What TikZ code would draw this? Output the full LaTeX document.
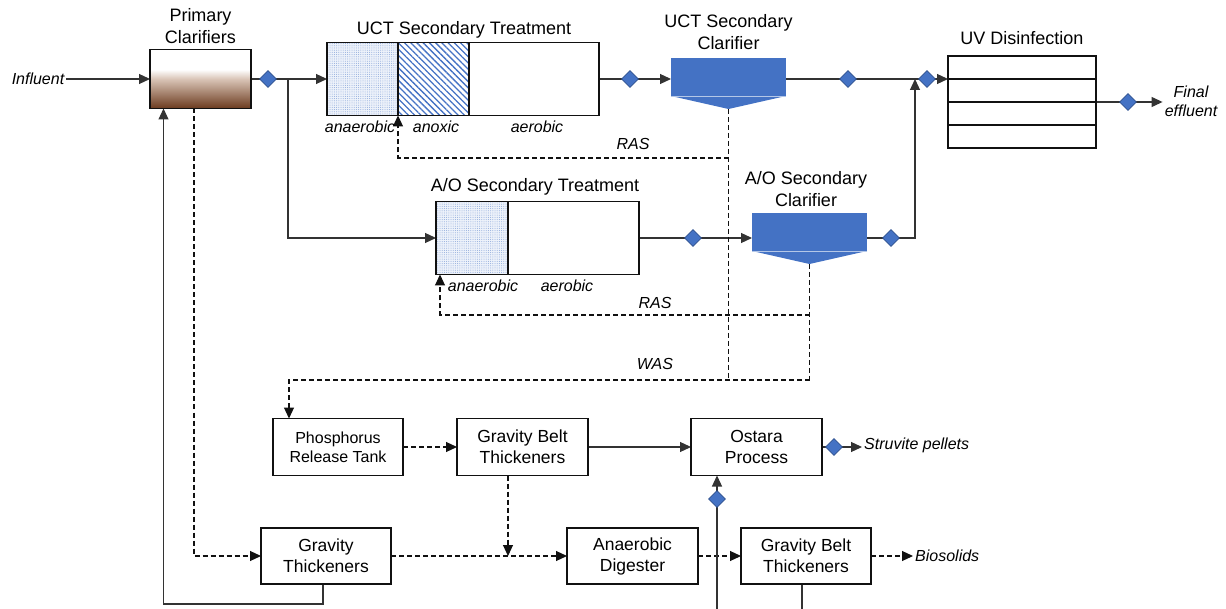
\documentclass[tikz,border=0pt]{standalone}
\usepackage{fontspec}
\setmainfont{Liberation Sans}
\usetikzlibrary{arrows.meta, positioning, calc, shapes.geometric, patterns.meta, backgrounds}

\definecolor{ink}{HTML}{111111}
\definecolor{pipe}{HTML}{333333}
\definecolor{clarblue}{HTML}{4472C4}
\definecolor{valveedge}{HTML}{2F528F}
\definecolor{dotblue}{HTML}{8EA9DB}
\definecolor{dotwash}{HTML}{EDF2FA}
\definecolor{mud}{HTML}{6B3A1E}
\definecolor{mudlight}{HTML}{D9C4B6}

% sludge blanket in the primary tank: clear on top, brown at the bottom
\pgfdeclareverticalshading{sludge}{100bp}{color(0bp)=(mud); color(25bp)=(mud);
  color(50bp)=(mudlight); color(58bp)=(white); color(100bp)=(white)}

\tikzset{
  font=\fontsize{17.5}{21}\selectfont,
  %
  box/.style={draw=ink, line width=1.8pt, fill=white, align=center,
              inner sep=0pt, outer sep=0pt, minimum width=130pt, minimum height=57pt},
  zone/.style={draw=ink, line width=1.8pt, fill=white, inner sep=0pt, outer sep=0pt,
               minimum height=73pt},
  anaer/.style={preaction={fill=dotwash},
                pattern={Dots[radius=0.5pt, distance=2.2pt]}, pattern color=dotblue},
  anox/.style={pattern={Lines[angle=-45, distance=4.4pt, line width=1.3pt]},
               pattern color=clarblue},
  clar/.style={fill=clarblue, inner sep=0pt, outer sep=0pt,
               minimum width=115pt, minimum height=38pt},
  valve/.style={diamond, fill=clarblue, draw=valveedge, line width=0.6pt,
                inner sep=0pt, minimum size=17pt},
  %
  flow/.style={draw=pipe, line width=1.2pt},
  flowback/.style={draw=ink, line width=1.1pt, dash pattern=on 5pt off 3pt},
  tip/.style={-{Triangle[length=11pt, width=10pt, sep=0pt]}},
  %
  ttl/.style={align=center, font=\fontsize{18}{21.5}\selectfont},
  lbl/.style={font=\fontsize{16}{19}\selectfont\itshape, inner sep=2pt},
}

\begin{document}
\begin{tikzpicture}[x=1pt, y=-1pt]
  \useasboundingbox (0,0) rectangle (1226,609);

  % --- liquid train --------------------------------------------------------
  \node[lbl] (inf) at (38,79) {Influent};
  \node[box, minimum width=101pt, minimum height=59pt, shading=sludge] (prim) at (200.5,79) {};
  \node[ttl] at (200.5,26) {Primary\\Clarifiers};

  \node[zone, anaer, minimum width=71pt] (uctana) at (362.5,79) {};
  \node[zone, anox, minimum width=71pt, right=0pt of uctana] (uctanx) {};
  \node[zone, minimum width=130pt, right=0pt of uctanx] (uctaer) {};
  \node[ttl] at (464,30) {UCT Secondary Treatment};
  \node[lbl] at (360,127) {anaerobic};
  \node[lbl] at (436,127) {anoxic};
  \node[lbl] at (537,127) {aerobic};

  \node[clar] (uctclar) at (728.5,77) {};
  \coordinate (uctclar tip) at ([yshift=-13pt]uctclar.south);
  \fill[clarblue] (uctclar.south west) -- (uctclar.south east) -- (uctclar tip) -- cycle;
  \draw[white!60!clarblue, line width=0.8pt] (uctclar.south west) -- (uctclar.south east);
  \node[ttl] at (728.5,32) {UCT Secondary\\Clarifier};

  \node[zone, anaer, minimum width=72pt] (aoana) at (472,238) {};
  \node[zone, minimum width=131pt, right=0pt of aoana] (aoaer) {};
  \node[ttl] at (535,187) {A/O Secondary Treatment};
  \node[lbl] at (483,286) {anaerobic};
  \node[lbl] at (567,286) {aerobic};

  \node[clar] (aoclar) at (809.5,232) {};
  \coordinate (aoclar tip) at ([yshift=-13pt]aoclar.south);
  \fill[clarblue] (aoclar.south west) -- (aoclar.south east) -- (aoclar tip) -- cycle;
  \draw[white!60!clarblue, line width=0.8pt] (aoclar.south west) -- (aoclar.south east);
  \node[ttl] at (806,189) {A/O Secondary\\Clarifier};

  \node[box, minimum width=148pt, minimum height=92pt] (uv) at (1022,102) {};
  \foreach \k in {1,2,3}
    \draw[draw=ink, line width=1.8pt] ([yshift={-23pt*\k}]uv.north west) -- ([yshift={-23pt*\k}]uv.north east);
  \node[ttl] at (1022,38) {UV Disinfection};
  \node[lbl, align=center] (fin) at (1191,101) {Final\\effluent};

  % --- solids train --------------------------------------------------------
  \node[box, font=\fontsize{16}{19}\selectfont] (prt) at (338,447) {Phosphorus\\Release Tank};
  \node[box, minimum width=131pt] (gbt1) at (522.5,447) {Gravity Belt\\Thickeners};
  \node[box, minimum width=131pt] (ostara) at (756.5,447) {Ostara\\Process};
  \node[lbl, anchor=west] (sp) at (862,445) {Struvite pellets};

  \node[box, minimum height=56pt] (gt) at (326,556) {Gravity\\Thickeners};
  \node[box, minimum width=131pt, minimum height=56pt] (ad) at (632.5,556) {Anaerobic\\Digester};
  \node[box, minimum height=56pt] (gbt2) at (806,556) {Gravity Belt\\Thickeners};
  \node[lbl, anchor=west] (bio) at (913,556) {Biosolids};

  \node[lbl] at (633,144) {RAS};
  \node[lbl] at (655,303) {RAS};
  \node[lbl] at (655,364) {WAS};

  % junctions
  \coordinate (split) at (288,79);
  \coordinate (join) at (915,79);
  \coordinate (uvin) at ([yshift=-23pt]uv.north west);
  \coordinate (uctras) at (728.5,158);
  \coordinate (aoras) at (809.5,315);
  \coordinate (wasR) at (809.5,380);
  \coordinate (wasL) at (289,380);
  \coordinate (drop) at (508,556);
  \coordinate (centrate) at (717,609);
  \coordinate (filtrate) at (802,609);

  \begin{scope}[on background layer]
    \draw[flow, tip] (inf) -- (prim);
    \draw[flow, tip] (prim) -- (uctana);
    \draw[flow, tip] (split) |- (aoana);
    \draw[flow, tip] (uctaer) -- (uctaer.east -| uctclar.west);
    \draw[flow, tip] (uctclar.east |- join) -- (uvin);
    \draw[flow, tip] (aoaer) -- (aoaer.east -| aoclar.west);
    \draw[flow, tip] (aoclar.east |- aoaer.east) -| (join);
    \draw[flow, tip] (uv.east) -- (uv.east -| fin.west);

    % return and waste sludge
    \draw[flowback] (uctclar tip) -- (uctclar tip |- wasR);
    \draw[flowback, tip] (uctras) -| (uctana.south east);
    \draw[flowback] (aoclar tip) -- (wasR);
    \draw[flowback, tip] (aoras) -| ([xshift=4pt]aoana.south west);
    \draw[flowback, tip] (wasR) -| (wasL |- prt.north);

    \draw[flowback, tip] (prt) -- (gbt1);
    \draw[flow, tip] (gbt1) -- (ostara);
    \draw[flow, tip] (ostara.east) -- (ostara.east -| sp.west);
    \draw[flowback, tip] (drop |- gbt1.south) -- (drop);
    \draw[flowback, tip] ([xshift=-6.5pt]prim.south) |- (gt);
    \draw[flowback, tip] (gt) -- (ad);
    \draw[flowback, tip] (ad) -- (gbt2);
    \draw[flowback, tip] (gbt2.east) -- (gbt2.east -| bio.west);
    \draw[flow, tip] ([xshift=-3pt]gt.south) -- ++(0,20) -| ([xshift=-37pt]prim.south);
    \draw[flow, tip] (centrate) -- (centrate |- ostara.south);
    \draw[flow] (filtrate |- gbt2.south) -- (filtrate);
  \end{scope}

  % sampling points
  \foreach \p in {(268,79), (630,79), (848,79), (927,79), (1128,102),
                  (693,238), (891,238), (834,447), (717,499)}
    \node[valve] at \p {};

\end{tikzpicture}
\end{document}
